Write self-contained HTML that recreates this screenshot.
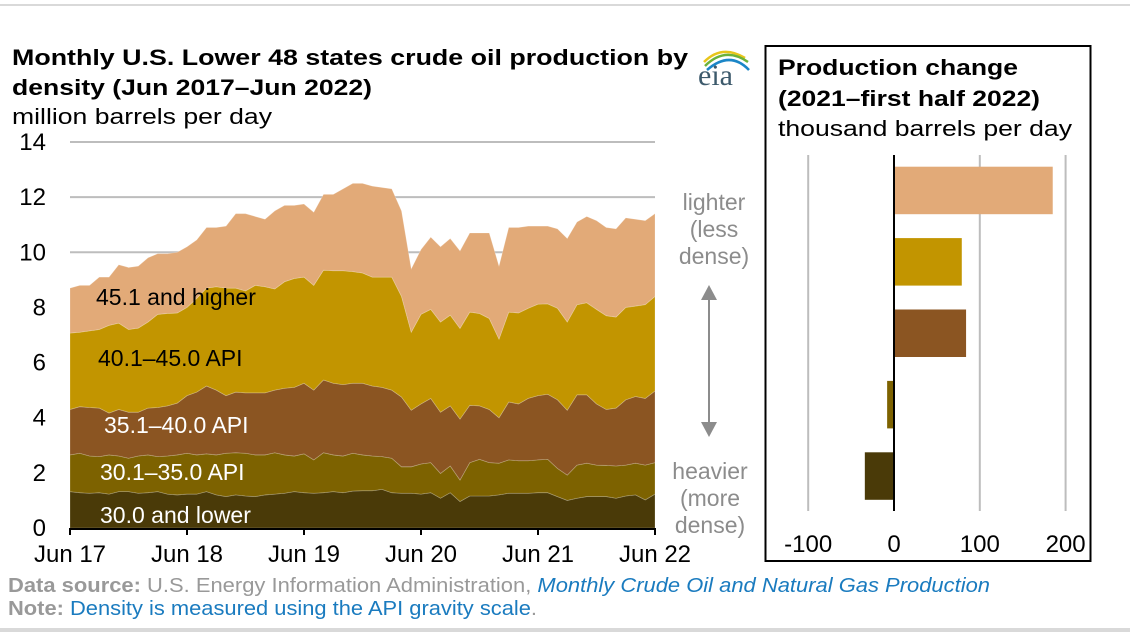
<!DOCTYPE html>
<html><head><meta charset="utf-8">
<style>
html,body{margin:0;padding:0;background:#fff;}
svg{display:block;font-family:"Liberation Sans",Arial,sans-serif;}
</style></head>
<body>
<svg id="chart" width="1130" height="632" viewBox="0 0 1130 632" xmlns="http://www.w3.org/2000/svg">
  <rect x="0" y="4" width="1130" height="2" fill="#d9d9d9"/>
  <rect x="0" y="628" width="1130" height="4" fill="#d9d9d9"/>
  <text x="12" y="65" font-size="22" font-weight="bold" textLength="676" lengthAdjust="spacingAndGlyphs">Monthly U.S. Lower 48 states crude oil production by</text>
  <text x="12" y="95" font-size="22" font-weight="bold" textLength="360" lengthAdjust="spacingAndGlyphs">density (Jun 2017–Jun 2022)</text>
  <text x="12" y="124" font-size="22" textLength="260" lengthAdjust="spacingAndGlyphs">million barrels per day</text>
  <g>
    <path d="M704 62 Q722 44 745 58" fill="none" stroke="#e8c51a" stroke-width="2.5"/>
    <path d="M705 66 Q725 46 748 62" fill="none" stroke="#6bb23a" stroke-width="2.5"/>
    <path d="M707 70 Q730 50 749 70" fill="none" stroke="#1b86c7" stroke-width="2.5"/>
    <text x="698" y="85" font-family="Liberation Serif,serif" font-size="30" fill="#3d5a6c">eia</text>
  </g>
  <g id="left"></g>
  <g>
    <line x1="709" y1="296" x2="709" y2="426" stroke="#8c8c8c" stroke-width="2"/>
    <polygon points="701,300 717,300 709,285" fill="#8c8c8c"/>
    <polygon points="701,422 717,422 709,437" fill="#8c8c8c"/>
  </g>
  <g font-size="23" fill="#8c8c8c" text-anchor="middle">
    <text x="714" y="210">lighter</text><text x="714" y="237">(less</text><text x="714" y="264">dense)</text>
  </g>
  <g font-size="23" fill="#8c8c8c" text-anchor="middle">
    <text x="710" y="479">heavier</text><text x="710" y="506">(more</text><text x="710" y="533">dense)</text>
  </g>
  <rect x="765.5" y="46" width="325" height="515" fill="none" stroke="#000" stroke-width="2"/>
  <text x="778" y="75" font-size="22" font-weight="bold" textLength="240" lengthAdjust="spacingAndGlyphs">Production change</text>
  <text x="778" y="106" font-size="22" font-weight="bold" textLength="262" lengthAdjust="spacingAndGlyphs">(2021–first half 2022)</text>
  <text x="778" y="136" font-size="22" textLength="294" lengthAdjust="spacingAndGlyphs">thousand barrels per day</text>
  <g id="right"></g>
  <g font-size="20">
    <text x="8" y="592" textLength="982" lengthAdjust="spacingAndGlyphs"><tspan fill="#999" font-weight="bold">Data source:</tspan><tspan fill="#999"> U.S. Energy Information Administration, </tspan><tspan fill="#1a7bbf" font-style="italic">Monthly Crude Oil and Natural Gas Production</tspan></text>
    <text x="8" y="615" textLength="529" lengthAdjust="spacingAndGlyphs"><tspan fill="#999" font-weight="bold">Note:</tspan><tspan fill="#1a7bbf"> Density is measured using the API gravity scale</tspan><tspan fill="#999">.</tspan></text>
  </g>
</svg>
<script>
const months = 61;
const s30Lower = [1.32,1.28,1.26,1.28,1.23,1.32,1.32,1.26,1.28,1.32,1.23,1.20,1.23,1.23,1.32,1.20,1.14,1.20,1.16,1.14,1.20,1.23,1.26,1.32,1.28,1.26,1.28,1.32,1.28,1.34,1.35,1.35,1.40,1.28,1.26,1.26,1.23,1.28,1.08,1.28,0.96,1.16,1.16,1.16,1.20,1.26,1.26,1.26,1.28,1.28,1.14,1.00,1.08,1.14,1.14,1.14,1.08,1.16,1.20,1.02,1.23];
const s30to35 = [1.33,1.43,1.35,1.31,1.42,1.29,1.21,1.35,1.37,1.27,1.38,1.45,1.48,1.42,1.37,1.45,1.57,1.53,1.55,1.51,1.45,1.50,1.39,1.29,1.41,1.21,1.45,1.33,1.33,1.37,1.30,1.26,1.19,1.25,0.96,0.96,1.09,1.09,0.90,0.97,0.78,1.21,1.33,1.21,1.15,1.21,1.18,1.18,1.19,1.21,1.02,0.92,1.20,1.21,1.14,1.13,1.17,1.12,1.15,1.26,1.14];
const s35to40 = [1.65,1.69,1.76,1.76,1.52,1.69,1.67,1.59,1.70,1.78,1.82,1.88,2.09,2.28,2.46,2.35,2.09,2.20,2.19,2.25,2.25,2.27,2.42,2.49,2.56,2.53,2.64,2.60,2.59,2.54,2.60,2.54,2.51,2.47,2.53,2.05,2.18,2.33,2.22,2.18,2.21,2.08,1.94,1.93,1.65,2.10,2.06,2.26,2.33,2.36,2.49,2.35,2.55,2.48,2.22,2.03,2.10,2.37,2.42,2.42,2.60];
const s40to45 = [2.77,2.70,2.78,2.85,3.18,3.13,3.00,3.05,3.12,3.38,3.35,3.27,3.20,3.40,3.55,3.75,3.90,3.77,3.70,3.90,3.85,3.67,3.86,3.95,3.85,3.80,3.98,4.08,4.13,4.05,4.00,3.95,4.00,4.10,3.65,2.83,3.25,3.23,3.27,3.29,3.29,3.38,3.35,3.30,2.85,3.26,3.30,3.27,3.32,3.28,3.32,3.20,3.27,3.34,3.43,3.40,3.30,3.35,3.28,3.40,3.43];
const s45up = [1.63,1.70,1.65,1.90,1.75,2.12,2.25,2.25,2.33,2.20,2.17,2.20,2.20,2.12,2.20,2.15,2.25,2.70,2.80,2.50,2.45,2.83,2.77,2.65,2.65,2.65,2.75,2.77,2.97,3.20,3.25,3.30,3.25,3.20,3.10,2.30,2.35,2.62,2.73,2.78,2.81,2.87,2.92,3.10,2.65,3.07,3.10,2.98,2.83,2.82,2.88,3.03,3.00,3.13,3.22,3.20,3.20,3.25,3.15,3.05,3.00];
const yTicks = [0,2,4,6,8,10,12,14];
const xTickLabels = ["Jun 17","Jun 18","Jun 19","Jun 20","Jun 21","Jun 22"];
const seriesNames = ["30.0 and lower","30.1–35.0 API","35.1–40.0 API","40.1–45.0 API","45.1 and higher"];
const barCategories = ["45.1 and higher","40.1–45.0 API","35.1–40.0 API","30.1–35.0 API","30.0 and lower"];
const barValues = [185,79,84,-8,-34];
const barTicks = [-100,0,100,200];

const NS="http://www.w3.org/2000/svg";
function mk(tag,attrs,parent){const e=document.createElementNS(NS,tag);for(const k in attrs)e.setAttribute(k,attrs[k]);parent.appendChild(e);return e;}
const L=document.getElementById('left');
const x0=70,x1=655,yb=528,yt=142,ymax=14;
const xs=i=>x0+(x1-x0)*i/(months-1);
const ys=v=>yb-(yb-yt)*v/ymax;
yTicks.forEach(t=>{
  if(t>0){const g=mk('line',{x1:x0,x2:x1,y1:ys(t),y2:ys(t),stroke:'#bdbdbd','stroke-width':2},L);
  
  }
  const tx=mk('text',{x:46,y:ys(t)+8,'font-size':24,'text-anchor':'end'},L);tx.textContent=t;
  
  
});
const series=[s30Lower,s30to35,s35to40,s40to45,s45up];
const colors=['#4a3a08','#7d6200','#8b5522','#c29500','#e2aa78'];
const bandNames=['area-30-and-lower','area-30-to-35','area-35-to-40','area-40-to-45','area-45-and-higher'];
let base=new Array(months).fill(0);
series.forEach((s,k)=>{
  const top=base.map((b,i)=>b+s[i]);
  let d='M'+xs(0)+','+ys(top[0]);
  for(let i=1;i<months;i++)d+=' L'+xs(i)+','+ys(top[i]);
  for(let i=months-1;i>=0;i--)d+=' L'+xs(i)+','+ys(base[i]);
  d+='Z';
  const p=mk('path',{d:d,fill:colors[k],stroke:'rgba(255,255,255,0.25)','stroke-width':0.8},L);
  
  
  base=top;
});
const ax=mk('line',{x1:x0-1,x2:x1+1,y1:yb+1,y2:yb+1,stroke:'#000','stroke-width':2},L);


xTickLabels.forEach((lab,j)=>{
  const x=xs(j*12);
  const tk=mk('line',{x1:x,x2:x,y1:yb,y2:yb+7,stroke:'#000','stroke-width':2},L);
  
  
  const t=mk('text',{x:x,y:yb+34,'font-size':24,'text-anchor':'middle'},L);t.textContent=lab;
  
  
});
const labPos=[[100,523,'#fff'],[100,480,'#fff'],[104,433,'#fff'],[98,366,'#000'],[96,305,'#000']];
seriesNames.forEach((n,k)=>{
  const t=mk('text',{x:labPos[k][0],y:labPos[k][1],'font-size':23,fill:labPos[k][2]},L);t.textContent=n;
  
  
});
const R=document.getElementById('right');
const bx=v=>894+v*0.858;
barTicks.forEach(t=>{
  const g=mk('line',{x1:bx(t),x2:bx(t),y1:155,y2:511,stroke:t===0?'#000':'#bdbdbd','stroke-width':2},R);
  
  
  const tx=mk('text',{x:bx(t),y:552,'font-size':24,'text-anchor':'middle'},R);tx.textContent=t;
  
  
});
const barColors=['#e2aa78','#c29500','#8b5522','#7d6200','#4a3a08'];
barValues.forEach((v,i)=>{
  const y=166.7+i*71.4;
  const xa=Math.min(bx(0),bx(v)),w=Math.abs(bx(v)-bx(0));
  const r=mk('rect',{x:xa,y:y,width:w,height:47.5,fill:barColors[i]},R);
  
  
});
const z=mk('line',{x1:bx(0),x2:bx(0),y1:155,y2:511,stroke:'#000','stroke-width':2},R);


</script>
</body></html>
